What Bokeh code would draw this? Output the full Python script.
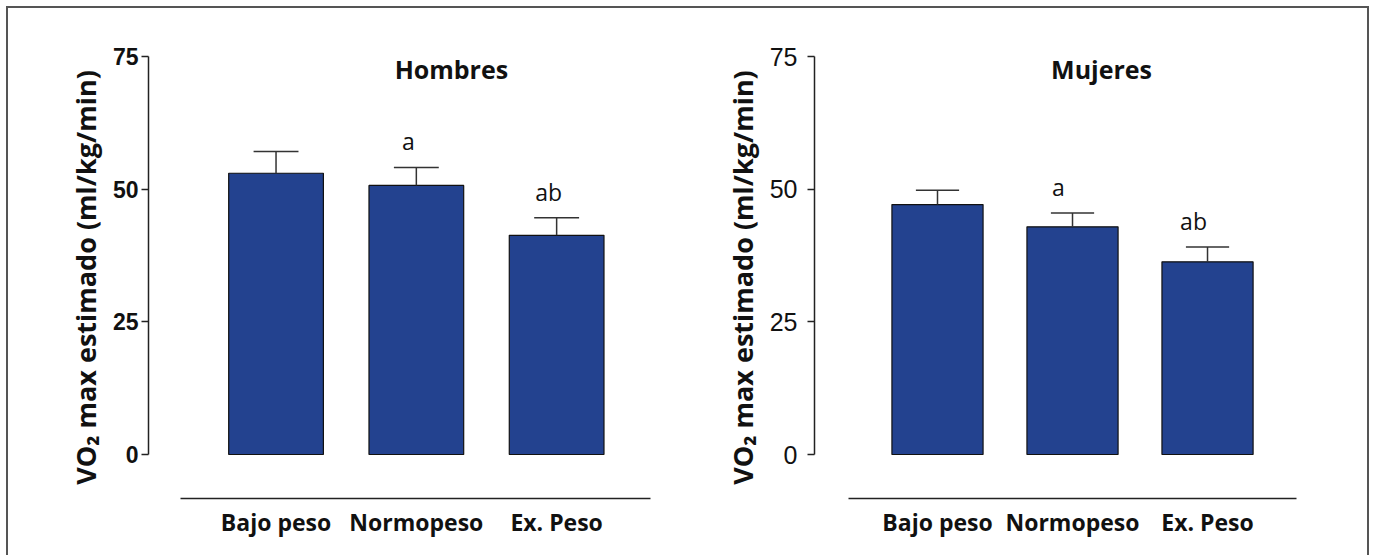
from bokeh.plotting import figure
from bokeh.layouts import row
from bokeh.models import ColumnDataSource, FixedTicker, Label
from bokeh.core.properties import value
from bokeh.embed import file_html
from bokeh.resources import INLINE

categories = ["Bajo peso", "Normopeso", "Ex. Peso"]
hombres_mean = [53.0, 50.7, 41.3]
hombres_err = [4.1, 3.4, 3.3]
mujeres_mean = [47.1, 42.9, 36.3]
mujeres_err = [2.7, 2.6, 2.8]
letters = ["", "a", "ab"]
y_ticks = [0, 25, 50, 75]
titles = ["Hombres", "Mujeres"]
ylabel = "VO\u2082 max estimado (ml/kg/min)"

BAR = "#23428F"
FONT = "Open Sans"


def panel(title, means, errs, width, border_left, border_right, x_start, x_end,
          axis_start, title_x, tick_font, tick_style, tick_size, tick_standoff, letter_dx):
    xs = list(range(len(categories)))
    tops = [m + e for m, e in zip(means, errs)]
    src = ColumnDataSource(dict(x=xs, m=means, top=tops,
                                cl=[x - 0.16 for x in xs], cr=[x + 0.16 for x in xs],
                                lab=letters))
    p = figure(width=width, height=547, output_backend="svg", toolbar_location=None,
               x_range=(x_start, x_end), y_range=(-8.29, 75),
               min_border_left=border_left, min_border_right=border_right,
               min_border_top=48, min_border_bottom=57)
    p.outline_line_color = None
    p.grid.visible = False
    p.background_fill_color = "white"
    p.border_fill_color = "white"

    p.vbar(x="x", top="m", bottom=0, width=0.675, source=src,
           fill_color=BAR, line_color="#111111", line_width=1.2)
    p.segment(x0="x", y0="m", x1="x", y1="top", source=src, line_color="#333333", line_width=1.5)
    p.segment(x0="cl", y0="top", x1="cr", y1="top", source=src, line_color="#333333", line_width=1.5)
    p.text(x="x", y="top", text="lab", source=src, text_align="center",
           text_baseline="bottom", y_offset=-10, x_offset=letter_dx,
           text_font_size="23px", text_color="#111111", text_font=value(FONT))

    p.add_layout(Label(x=title_x, y=72.6, text=title, text_align="center",
                       text_baseline="middle", text_font=FONT, text_font_style="bold",
                       text_font_size="25px", text_color="#111111"))

    ya = p.yaxis[0]
    ya.ticker = FixedTicker(ticks=y_ticks)
    ya.bounds = (0, 75)
    ya.minor_tick_line_color = None
    ya.major_tick_in = 0
    ya.major_tick_out = 7
    ya.major_tick_line_width = 1.5
    ya.axis_line_width = 1.5
    ya.axis_line_color = "#222222"
    ya.major_tick_line_color = "#222222"
    ya.major_label_text_font = tick_font
    ya.major_label_text_font_style = tick_style
    ya.major_label_text_font_size = tick_size
    ya.major_label_text_color = "#111111"
    ya.major_label_standoff = tick_standoff
    ya.axis_label = ylabel
    ya.axis_label_text_font = FONT
    ya.axis_label_text_font_style = "bold"
    ya.axis_label_text_font_size = "27px"
    ya.axis_label_text_color = "#111111"
    ya.axis_label_standoff = 6

    xa = p.xaxis[0]
    xa.ticker = FixedTicker(ticks=xs)
    xa.major_label_overrides = {i: c for i, c in zip(xs, categories)}
    xa.bounds = (axis_start, x_end)
    xa.minor_tick_line_color = None
    xa.major_tick_line_color = None
    xa.major_tick_in = 0
    xa.major_tick_out = 0
    xa.axis_line_width = 1.5
    xa.axis_line_color = "#222222"
    xa.major_label_text_font = FONT
    xa.major_label_text_font_style = "bold"
    xa.major_label_text_font_size = "23px"
    xa.major_label_text_color = "#111111"
    xa.major_label_standoff = 7
    return p


p1 = panel(titles[0], hombres_mean, hombres_err, 678, 140, 36, -0.909, 2.669, -0.681, 1.25,
           "Liberation Sans", "bold", "23px", 3, -8)
p2 = panel(titles[1], mujeres_mean, mujeres_err, 681, 128, 71, -0.911, 2.659, -0.659, 1.215,
           "Liberation Sans", "normal", "25px", 10, -14)

layout = row(p1, p2, margin=(8, 0, 0, 8),
             styles={"outline": "2px solid #555555", "outline-offset": "0px"})

open("out.html", "w").write(file_html(layout, INLINE))
